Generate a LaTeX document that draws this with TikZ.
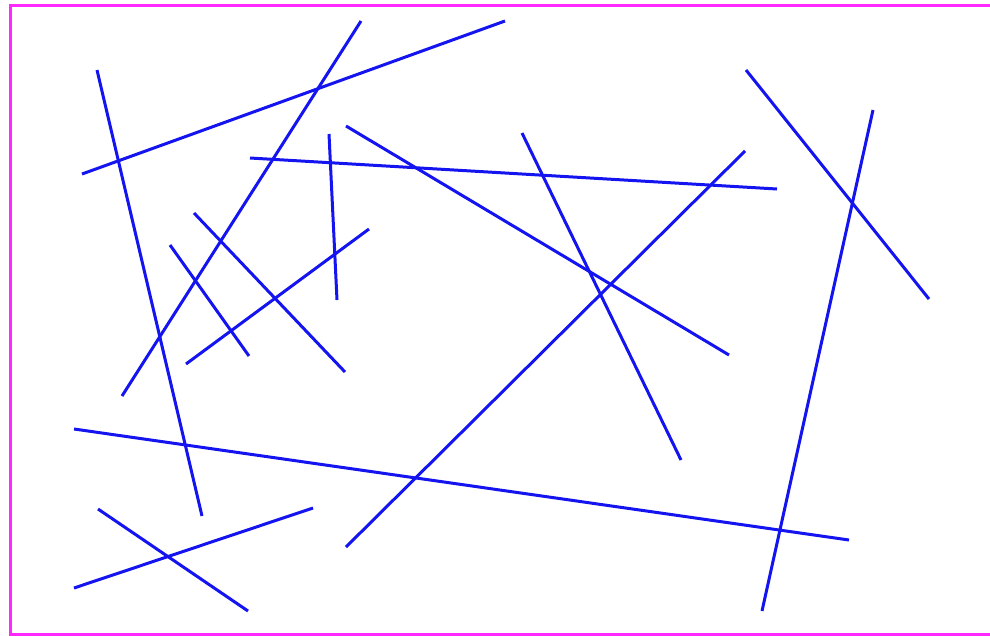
\documentclass[tikz,border=0pt]{standalone}
\begin{document}
\begin{tikzpicture}[x=1pt,y=-1pt,
  seg/.style={draw={rgb,255:red,20;green,20;blue,240},line width=3pt},
  frame/.style={draw={rgb,255:red,255;green,40;blue,255},line width=3pt}]
\useasboundingbox (0,0) rectangle (990,635);
\begin{scope}
\clip (0,0) rectangle (990,635);
\draw[frame] (10,5) rectangle (1000,634);
\end{scope}
\draw[seg] (97,70) -- (202,516);
\draw[seg] (82,174) -- (505,21);
\draw[seg] (361,21) -- (122,396);
\draw[seg] (250,158) -- (777,189);
\draw[seg] (329,134) -- (337,300);
\draw[seg] (346,126) -- (729,355);
\draw[seg] (522,133) -- (681,460);
\draw[seg] (745,151) -- (346,547);
\draw[seg] (746,70) -- (929,299);
\draw[seg] (873,110) -- (762,611);
\draw[seg] (194,213) -- (345,372);
\draw[seg] (170,245) -- (249,356);
\draw[seg] (369,229) -- (186,364);
\draw[seg] (74,429) -- (849,540);
\draw[seg] (98,509) -- (248,611);
\draw[seg] (74,588) -- (313,508);
\end{tikzpicture}
\end{document}
